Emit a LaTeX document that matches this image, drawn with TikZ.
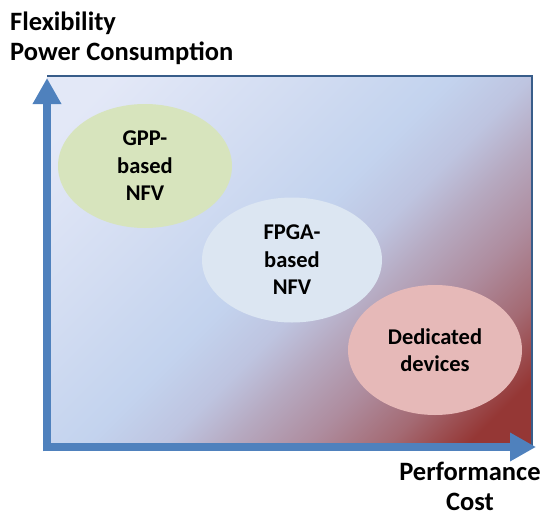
\documentclass[tikz,border=0pt]{standalone}
\usepackage{fontspec}
\setmainfont{Carlito}
\usepackage{xcolor}
\usepackage{tikz}
\usetikzlibrary{arrows.meta,shapes.geometric}

\definecolor{axisblue}{HTML}{4F81BD}
\definecolor{rimblue}{HTML}{385D8A}
\definecolor{gppgreen}{HTML}{D7E4BD}
\definecolor{fpgablue}{HTML}{DCE6F2}
\definecolor{dedpink}{HTML}{E6B9B8}
% background fade, top-left to bottom-right
\definecolor{bgA}{HTML}{E3E8F7}
\definecolor{bgB}{HTML}{D3DDF2}
\definecolor{bgC}{HTML}{C3D3EE}
\definecolor{bgD}{HTML}{BEC4E0}
\definecolor{bgE}{HTML}{B6A9C0}
\definecolor{bgF}{HTML}{AE8C9E}
\definecolor{bgG}{HTML}{A46A73}
\definecolor{bgH}{HTML}{953735}
\pgfdeclareverticalshading{bgfade}{100bp}{color(0bp)=(bgH); color(20bp)=(bgH); color(26.6bp)=(bgG); color(33.2bp)=(bgF); color(39.8bp)=(bgE); color(45.2bp)=(bgD); color(51.8bp)=(bgC); color(65bp)=(bgB); color(80bp)=(bgA); color(100bp)=(bgA)}

\begin{document}
\begin{tikzpicture}[
        x=1pt, y=-1pt,
        blob/.style={ellipse, inner sep=0pt, align=center, font=\fontsize{22.5}{27.5}\selectfont\bfseries},
        axislbl/.style={inner sep=0pt, font=\fontsize{26.5}{30}\selectfont\bfseries},
        axis/.style={-{Triangle[length=26pt,width=27pt]}, line width=8.5pt, axisblue}
    ]
        \useasboundingbox (0,0) rectangle (542,515);

        % Plane
        \shade[shading=bgfade, shading angle=45] (47,76) rectangle (532,447);
        \draw[rimblue, line width=2.5pt] (47,76) -- (532,76) -- (532,447);

        % Axes
        \coordinate (o) at (47,447);
        \coordinate (ytip) at (47,78);
        \coordinate (xtip) at (536,447);
        \draw[axis] ([yshift=-4.25pt]o) -- (ytip);
        \draw[axis] ([xshift=-4.25pt]o) -- (xtip);

        % Platforms
        \node[blob, fill=gppgreen, minimum width=174pt, minimum height=124pt] (gpp) at (145,166) {GPP-\\based\\NFV};
        \node[blob, fill=fpgablue, minimum width=180pt, minimum height=125pt] (fpga) at (292,260) {FPGA-\\based\\NFV};
        \node[blob, fill=dedpink, minimum width=174pt, minimum height=130pt] (ded) at (435,350) {Dedicated\\devices};

        % Axis labels
        \node[axislbl, align=left, anchor=north west] (ylab) at (10,11.5) {Flexibility\\Power Consumption};
        \node[axislbl, align=center, anchor=north] (xlab) at (470,462) {Performance\\Cost};
\end{tikzpicture}
\end{document}
